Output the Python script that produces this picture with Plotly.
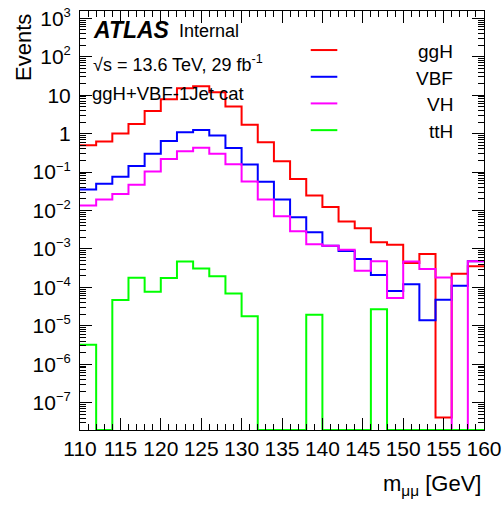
import numpy as np
import plotly.graph_objects as go

# ---- data (2 GeV bins from 110 to 160 GeV) ----
bin_lo = 110.0
bin_hi = 160.0
bin_width = 2.0

ggH = [0.50, 0.62, 1.0, 1.78, 3.85, 7.8, 15.1, 17.0, 12.0, 5.1,
       1.71, 0.60, 0.192, 0.0665, 0.0247, 0.0124, 0.00514, 0.00346, 0.00149, 0.00129,
       0.00043, 0.00074, 4.1e-8, 0.000227, 0.000355]
VBF = [0.0354, 0.050, 0.076, 0.143, 0.30, 0.64, 1.09, 1.24, 0.89, 0.42,
       0.157, 0.056, 0.0192, 0.0067, 0.00272, 0.00122, 0.00089, 0.00055, 0.00021, 8.1e-5,
       1.2e-4, 1.39e-5, 4.8e-5, 1.11e-4, 4.8e-4]
VH = [0.0135, 0.0192, 0.027, 0.047, 0.104, 0.22, 0.35, 0.43, 0.30, 0.16,
      0.057, 0.0192, 0.0071, 0.0029, 0.00133, 0.00122, 0.00096, 0.00027, 0.00048, 5.3e-5,
      0.00047, 0.00030, 0.00018, 0.0, 0.00048]
ttH = [3.2e-6, 0.0, 4.7e-5, 1.78e-4, 7.7e-5, 1.76e-4, 4.7e-4, 3.1e-4, 1.95e-4, 6.9e-5,
       1.78e-5, 0.0, 0.0, 0.0, 1.95e-5, 0.0, 0.0, 0.0, 2.7e-5, 0.0,
       0.0, 0.0, 0.0, 0.0, 0.0]

series_names = ["ggH", "VBF", "VH", "ttH"]
series_vals = [ggH, VBF, VH, ttH]
series_colors = ["#ff0000", "#0000ff", "#ff00ff", "#00ff00"]

x_ticks = [110, 115, 120, 125, 130, 135, 140, 145, 150, 155, 160]
y_tick_exponents = [-7, -6, -5, -4, -3, -2, -1, 0, 1, 2, 3]

# ---- figure ----
Y_LOG_MIN = -7.71
Y_LOG_MAX = 3.19
floor_val = 10 ** Y_LOG_MIN

edges = np.arange(bin_lo, bin_hi + bin_width / 2, bin_width)

fig = go.Figure()
for name, vals, col in zip(series_names, series_vals, series_colors):
    v = [max(val, floor_val) for val in vals]
    fig.add_trace(go.Scatter(
        x=list(edges), y=v + [v[-1]], mode="lines", name=name,
        line=dict(color=col, width=2, shape="hv"), showlegend=False,
        hoverinfo="skip"))

FONT = "Liberation Sans, Arial, Helvetica, sans-serif"

def ytick_label(p):
    if p == 0:
        return "1"
    if p == 1:
        return "10"
    sign = "−" if p < 0 else ""
    return "10<sup><span style='font-size:13px'>%s%d</span></sup>" % (sign, abs(p))

y_tickvals = [10.0 ** p for p in y_tick_exponents]
y_ticktext = [ytick_label(p) for p in y_tick_exponents]
y_minor_vals = [m * 10.0 ** p for p in range(-8, 4) for m in range(2, 10)]

# legend built from shapes + annotations (ROOT style: text right-aligned)
leg_y_px = [50, 76.7, 103.3, 130]
shapes = []
annotations = []
def py2paper(py):
    return (429.5 - py) / 418.5

for name, col, ypx in zip(series_names, series_colors, leg_y_px):
    yp = py2paper(ypx)
    shapes.append(dict(type="line", xref="paper", yref="paper",
                       x0=0.5711, x1=0.6369, y0=yp, y1=yp,
                       line=dict(color=col, width=2)))
    annotations.append(dict(text=name, xref="paper", yref="paper",
                            x=0.928, y=py2paper(ypx + 1.5), xanchor="right",
                            yanchor="middle", showarrow=False,
                            font=dict(family=FONT, size=19, color="black")))

annotations += [
    dict(text="<b><i>ATLAS</i></b>", xref="paper", yref="paper",
         x=0.027, y=py2paper(29.5), xanchor="left", yanchor="middle",
         showarrow=False, font=dict(family=FONT, size=23, color="black")),
    dict(text="Internal", xref="paper", yref="paper",
         x=0.240, y=py2paper(31), xanchor="left", yanchor="middle",
         showarrow=False, font=dict(family=FONT, size=18, color="black")),
    dict(text="√s = 13.6 TeV, 29 fb<sup>-1</sup>", xref="paper", yref="paper",
         x=0.027, y=py2paper(63), xanchor="left", yanchor="middle",
         showarrow=False, font=dict(family=FONT, size=18, color="black")),
    dict(text="ggH+VBF-1Jet cat", xref="paper", yref="paper",
         x=0.025, y=py2paper(93), xanchor="left", yanchor="middle",
         showarrow=False, font=dict(family=FONT, size=18.5, color="black")),
    dict(text="Events", xref="paper", yref="paper", textangle=-90,
         x=(23.5 - 80) / 404, y=py2paper(12), xanchor="center", yanchor="top",
         showarrow=False, font=dict(family=FONT, size=22, color="black")),
    dict(text="m<sub>μμ</sub> [GeV]", xref="paper", yref="paper",
         x=0.998, y=py2paper(484.5), xanchor="right", yanchor="middle",
         showarrow=False, font=dict(family=FONT, size=22, color="black")),
]

fig.update_layout(
    width=504, height=506,
    margin=dict(l=80, r=20, t=11, b=76, pad=0, autoexpand=False),
    paper_bgcolor="white", plot_bgcolor="white",
    font=dict(family=FONT, size=21, color="black"),
    shapes=shapes, annotations=annotations, showlegend=False,
)
fig.update_xaxes(
    range=[bin_lo, bin_hi], tickmode="array", tickvals=x_ticks,
    ticktext=[str(t) for t in x_ticks],
    ticks="inside", ticklen=12, tickwidth=1, tickcolor="black",
    minor=dict(ticks="inside", dtick=1, ticklen=6, tickcolor="black", showgrid=False),
    showline=True, linecolor="black", linewidth=1, mirror="allticks",
    showgrid=False, zeroline=False, tickfont=dict(size=21), automargin=False,
)
fig.update_yaxes(
    type="log", range=[Y_LOG_MIN, Y_LOG_MAX],
    tickmode="array", tickvals=y_tickvals, ticktext=y_ticktext,
    ticks="inside", ticklen=12, tickwidth=1, tickcolor="black",
    minor=dict(ticks="inside", tickmode="array", tickvals=y_minor_vals,
               ticklen=6, tickcolor="black", showgrid=False),
    showline=True, linecolor="black", linewidth=1, mirror="allticks",
    showgrid=False, zeroline=False, tickfont=dict(size=21),
    ticklabelstandoff=4, automargin=False,
)

fig.write_html(
    "out.html",
    config={"displayModeBar": False},
    post_script="document.body.style.margin='0';document.body.style.overflow='hidden';",
)
